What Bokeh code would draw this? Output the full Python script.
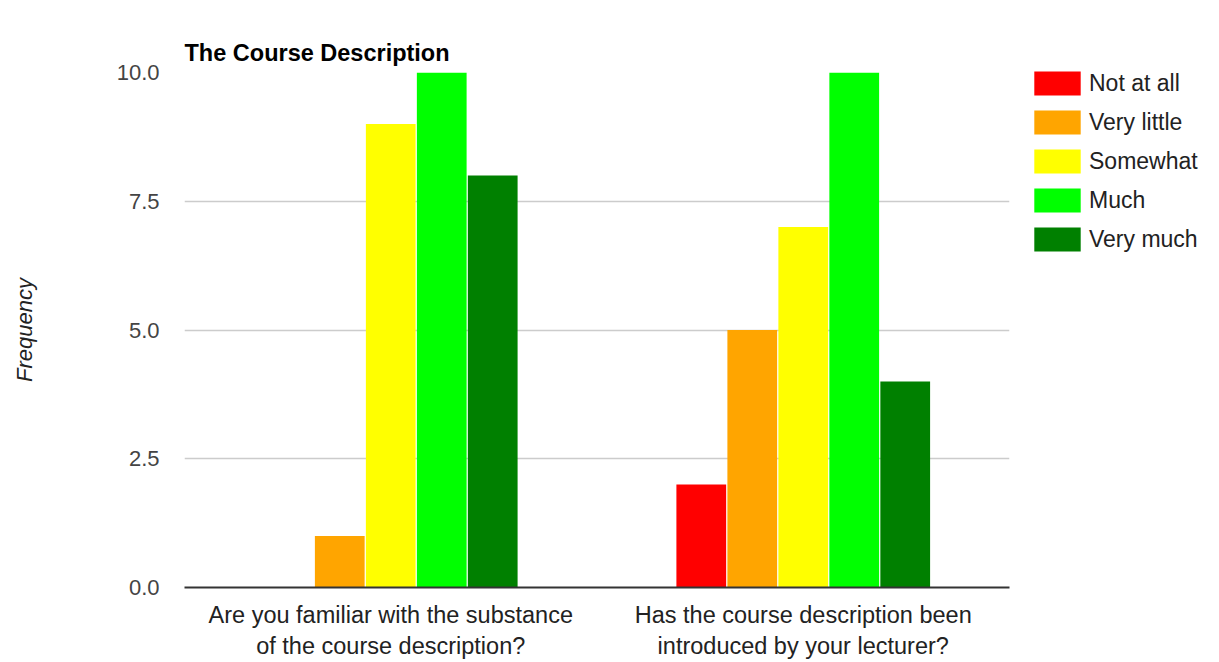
from bokeh.plotting import figure
from bokeh.models import FactorRange, Range1d, FixedTicker, NumeralTickFormatter, Legend, LegendItem, ColumnDataSource, Title
from bokeh.transform import dodge
from bokeh.embed import file_html
from bokeh.resources import INLINE

title_text = "The Course Description"
questions = ["Are you familiar with the substance\nof the course description?",
             "Has the course description been\nintroduced by your lecturer?"]
levels = ["Not at all", "Very little", "Somewhat", "Much", "Very much"]
colors = ["#ff0000", "#ffa500", "#ffff00", "#00ff00", "#008000"]
not_at_all = [0, 2]
very_little = [1, 5]
somewhat = [9, 7]
much = [10, 10]
very_much = [8, 4]
series = [not_at_all, very_little, somewhat, much, very_much]
y_ticks = [0, 2.5, 5, 7.5, 10]

FONT = "Liberation Sans"

# the figure's own title acts as an invisible spacer next to the frame
p = figure(x_range=FactorRange(*questions, range_padding=0), y_range=Range1d(0, 10),
           frame_width=825, frame_height=515, output_backend="svg", toolbar_location=None,
           min_border_left=184, min_border_top=72, min_border_right=10, min_border_bottom=60,
           title=" ")
p.outline_line_color = None
p.title.text_font_size = "1px"
p.title.text_color = None
p.title.standoff = 31

# the visible title, stacked above the spacer
main_title = Title(text=title_text, text_font=FONT, text_font_size="23.5px",
                   text_font_style="bold", text_color="#000000", align="left",
                   vertical_align="top", standoff=10)
p.add_layout(main_title, "above")

step = 0.1236
src = ColumnDataSource(dict(q=questions, **{lv: s for lv, s in zip(levels, series)}))
renderers = []
for i, (lv, c) in enumerate(zip(levels, colors)):
    r = p.vbar(x=dodge("q", (i - 2) * step, range=p.x_range), top=lv, width=step - 0.003,
               source=src, fill_color=c, line_color=None)
    renderers.append((lv, r))

p.yaxis.ticker = FixedTicker(ticks=y_ticks)
p.yaxis.formatter = NumeralTickFormatter(format="0.0")
p.yaxis.axis_line_color = None
p.yaxis.major_tick_line_color = None
p.yaxis.minor_tick_line_color = None
p.yaxis.major_label_text_font = FONT
p.yaxis.major_label_text_font_size = "22px"
p.yaxis.major_label_text_color = "#444444"
p.yaxis.major_label_standoff = 19
p.yaxis.axis_label = "Frequency"
p.yaxis.axis_label_text_font = FONT
p.yaxis.axis_label_text_font_size = "22px"
p.yaxis.axis_label_text_font_style = "italic"
p.yaxis.axis_label_text_color = "#222222"
p.yaxis.axis_label_standoff = 77

p.xaxis.axis_line_color = "#333333"
p.xaxis.axis_line_width = 2
p.xaxis.major_tick_line_color = None
p.xaxis.minor_tick_line_color = None
p.xaxis.major_label_text_font = FONT
p.xaxis.major_label_text_font_size = "23.5px"
p.xaxis.major_label_text_color = "#222222"
p.xaxis.major_label_standoff = 8

p.xgrid.grid_line_color = None
p.ygrid.grid_line_color = "#cccccc"
p.ygrid.grid_line_width = 1.5

legend = Legend(items=[LegendItem(label=lv, renderers=[r]) for lv, r in renderers],
                location=(19, 333), margin=0, padding=0, spacing=9,
                glyph_width=58, glyph_height=30, label_height=24, label_standoff=3,
                label_text_font=FONT, label_text_font_size="23px", label_text_color="#222222",
                border_line_color=None, background_fill_color=None)
p.add_layout(legend, "right")

open("out.html", "w").write(file_html(p, INLINE))
